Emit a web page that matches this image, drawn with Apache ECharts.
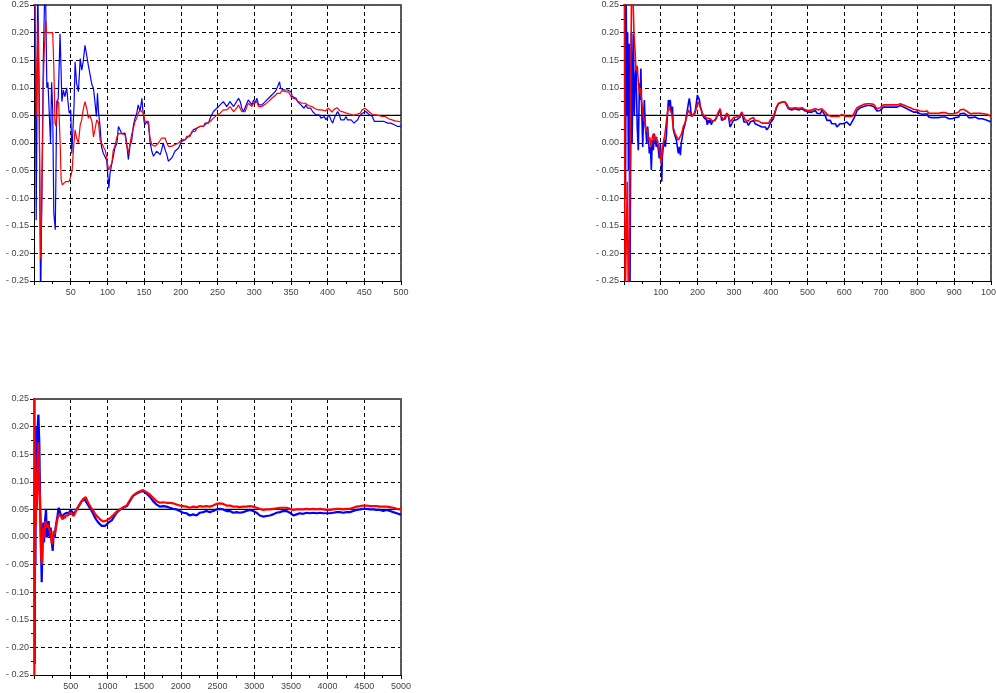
<!DOCTYPE html>
<html>
<head>
<meta charset="utf-8">
<title>Running estimates</title>
<script src="https://cdn.jsdelivr.net/npm/echarts@6/dist/echarts.min.js"></script>
<style>
  html, body { margin: 0; padding: 0; background: #fff; }
  #chart { width: 996px; height: 693px; }
</style>
</head>
<body>
<div id="chart"></div>
<script>
// Reference level drawn as a solid black line in every panel
const refLevel = 0.05;

// Horizontal extent and tick step of each panel
const panelMax = [500, 1000, 5000];
const panelStep = [50, 100, 500];

// Panel 1: first 500 steps, pairs of [step, estimate]
const tlBlue = [
[1,0.30],[2,0.10],[3,-0.14],[4,0.05],[5,0.30],[7,0.10],[9,-0.30],[11,-0.05],[12.7,0.15],[15,0.30],[16,0.25],[17.5,0.10],[19,0.11],[21,0.107],[22.5,0.0],[24,0.11],[25.5,0.06],[27,-0.127],[29,-0.157],[31,0.075],[33,0.08],[35.5,0.198],[38,0.075],[40,0.096],[42,0.084],[44.5,0.10],[47,0.066],[48,0.054],[50,0.06],[51.5,-0.019],[54.5,0.066],[56,0.147],[58,0.108],[60.5,0.093],[63,0.153],[65,0.132],[67,0.147],[69.5,0.177],[72,0.174],[74,0.141],[76,0.138],[79,0.105],[81,0.099],[83,0.075],[85,0.048],[86.5,0.09],[88,0.054],[90,0.03],[92,-0.007],[94.5,-0.019],[97,-0.016],[99,-0.031],[102,-0.082],[103.6,-0.055],[106,-0.037],[108,-0.025],[110,-0.01],[113,0.0],[115,0.03],[117,0.031],[119.5,0.017],[122,0.02],[124,0.018],[126,0.003],[128.5,-0.03],[131,-0.003],[133,0.003],[135.5,0.033],[137.7,0.045],[140,0.054],[142,0.069],[144.5,0.057],[147,0.081],[148,0.063],[150,0.039],[151,0.033],[153.6,0.039],[156,0.033],[158,0.003],[160.5,-0.015],[162.7,-0.024],[165,-0.021],[167,-0.015],[169.5,-0.012],[172,-0.021],[174,-0.012],[176,0.0],[178.6,-0.012],[181,-0.021],[183,-0.033],[185.5,-0.036],[187.7,-0.027],[190,-0.021],[192,-0.015],[194.5,-0.012],[197,-0.009],[199,-0.003],[201,0.003],[203.6,0.0],[206,0.006],[208,0.009],[210.5,0.012],[212.7,0.015],[215,0.018],[217,0.024],[219.5,0.024],[222,0.027],[224,0.024],[226,0.03],[228.6,0.033],[231,0.03],[233,0.036],[235.5,0.039],[237.7,0.036],[240,0.045],[242,0.051],[244.5,0.057],[247,0.06],[249,0.063],[251,0.066],[253.6,0.069],[256,0.072],[258,0.075],[260.5,0.072],[262.7,0.066],[265,0.069],[267,0.075],[269.5,0.072],[272,0.066],[274,0.063],[276,0.075],[278.6,0.081],[281,0.075],[283,0.063],[285.5,0.057],[287.7,0.06],[290,0.072],[292,0.078],[294.5,0.075],[297,0.069],[299,0.078],[301,0.072],[303.6,0.081],[306,0.069],[308,0.066],[310.5,0.069],[312.7,0.072],[315,0.075],[317,0.078],[319.5,0.081],[322,0.084],[324,0.087],[326,0.09],[328.6,0.093],[331,0.099],[333,0.102],[334.5,0.111],[336,0.099],[338.6,0.102],[341,0.096],[343,0.099],[345.5,0.096],[347.7,0.096],[350,0.093],[352,0.084],[354.5,0.081],[357,0.081],[359,0.075],[361,0.072],[363.6,0.069],[366,0.069],[368,0.063],[370.5,0.069],[372.7,0.063],[375,0.06],[377,0.063],[379.5,0.057],[382,0.054],[384,0.051],[386,0.048],[388.6,0.051],[391,0.045],[393,0.042],[395.5,0.048],[397.7,0.042],[400,0.045],[402,0.051],[404.5,0.042],[407,0.036],[409,0.045],[411,0.048],[413.6,0.057],[416,0.051],[418,0.042],[420.5,0.045],[422.7,0.042],[425,0.048],[427,0.042],[429.5,0.045],[432,0.042],[434,0.039],[436,0.036],[438.6,0.036],[441,0.042],[443,0.048],[445.5,0.051],[447.7,0.054],[450,0.054],[452,0.057],[454.5,0.054],[457,0.051],[459,0.048],[461,0.048],[463.6,0.039],[466,0.036],[468,0.039],[470.5,0.042],[472.7,0.039],[475,0.042],[477,0.039],[479.5,0.036],[482,0.036],[484,0.033],[486,0.036],[488.6,0.033],[491,0.033],[493,0.032],[495.5,0.03],[497.7,0.033],[500,0.03]
];
const tlRed = [
[1,0.30],[2,0.20],[3,0.05],[4,0.12],[5.5,0.22],[7,0.05],[9,-0.21],[10.5,-0.12],[11.4,-0.03],[12.7,0.108],[14,0.168],[16,0.222],[17,0.2],[19.5,0.2],[22,0.2],[25.5,0.2],[27,0.138],[28.6,0.036],[30,0.03],[32,0.078],[33.6,0.072],[35.5,0.005],[37,-0.067],[38.6,-0.076],[41,-0.079],[43,-0.07],[45.5,-0.067],[47.7,-0.07],[50,-0.061],[52,-0.049],[53.6,-0.013],[56,0.024],[58,0.009],[60.5,0.0],[63,0.033],[65,0.042],[67,0.06],[69.5,0.075],[72,0.062],[74,0.045],[76,0.05],[79,0.039],[81,0.011],[83,0.024],[85.5,0.042],[88,0.036],[90,0.005],[92,0.0],[94.5,-0.007],[97,-0.013],[99,-0.025],[101.4,-0.049],[103.6,-0.043],[106,-0.037],[108,-0.013],[110,-0.007],[113,0.011],[115,0.017],[117,0.014],[119.5,0.017],[122,0.014],[124,0.015],[126,-0.003],[128.6,-0.018],[131,0.0],[133,0.015],[135.5,0.027],[137.7,0.039],[140,0.045],[142,0.054],[144.5,0.06],[147,0.063],[149,0.054],[151,0.039],[153.6,0.036],[156,0.039],[158,0.009],[160.5,-0.003],[162.7,-0.003],[165,-0.006],[167,-0.003],[169.5,0.0],[172,-0.003],[174,0.009],[176,0.012],[178.6,0.009],[181,0.0],[183,-0.006],[185.5,-0.009],[187.7,-0.006],[190,-0.009],[192,-0.003],[194.5,0.0],[197,0.0],[199,0.003],[201,0.006],[203.6,0.003],[206,0.006],[208,0.012],[210.5,0.015],[212.7,0.012],[215,0.021],[217,0.024],[219.5,0.021],[222,0.027],[224,0.024],[226,0.03],[228.6,0.027],[231,0.03],[233,0.033],[235.5,0.036],[237.7,0.033],[240,0.039],[242,0.042],[244.5,0.045],[247,0.048],[249,0.05],[251,0.051],[253.6,0.054],[256,0.057],[258,0.06],[260.5,0.062],[262.7,0.06],[265,0.063],[267,0.066],[269.5,0.063],[272,0.057],[274,0.054],[276,0.063],[278.6,0.069],[281,0.066],[283,0.057],[285.5,0.054],[287.7,0.057],[290,0.066],[292,0.072],[294.5,0.069],[297,0.066],[299,0.072],[301,0.069],[303.6,0.075],[306,0.066],[308,0.064],[310.5,0.066],[312.7,0.069],[315,0.07],[317,0.072],[319.5,0.075],[322,0.078],[324,0.081],[326,0.082],[328.6,0.086],[331,0.09],[333,0.093],[335.5,0.09],[337.7,0.095],[340,0.092],[342,0.093],[344.5,0.09],[347,0.092],[349,0.089],[351,0.082],[353.6,0.081],[356,0.08],[358,0.077],[360.5,0.075],[362.7,0.074],[365,0.072],[367,0.07],[369.5,0.072],[372,0.069],[374,0.068],[376,0.069],[378.6,0.066],[381,0.063],[383,0.062],[385.5,0.063],[387.7,0.06],[390,0.063],[392,0.06],[394.5,0.062],[397,0.058],[399,0.06],[401,0.063],[403.6,0.06],[406,0.056],[408,0.06],[410.5,0.063],[412.7,0.064],[415,0.062],[417,0.058],[419.5,0.057],[422,0.056],[424,0.057],[426,0.054],[428.6,0.056],[431,0.052],[433,0.051],[435.5,0.05],[437.7,0.051],[440,0.052],[442,0.051],[444.5,0.054],[447,0.06],[449,0.062],[451,0.063],[453.6,0.06],[456,0.057],[458,0.054],[460.5,0.052],[462.7,0.05],[465,0.051],[467,0.048],[469.5,0.05],[472,0.051],[474,0.048],[476,0.046],[478.6,0.048],[481,0.045],[483,0.044],[485.5,0.045],[487.7,0.042],[490,0.042],[492,0.04],[494.5,0.041],[497,0.039],[500,0.038]
];

// Panel 2: first 1000 steps
const trBlue = [
[2,0.30],[4,-0.10],[6,0.25],[8,0.05],[10,0.20],[12,-0.05],[14,0.18],[16,-0.30],[18,-0.30],[20,0.20],[22,0.0],[24,0.10],[25.5,0.198],[28,0.05],[30,0.108],[32.7,0.138],[36,0.03],[39,-0.013],[42,0.108],[43.6,0.078],[46,0.135],[48,0.066],[51,-0.007],[53,0.042],[55.5,0.078],[58,0.03],[60,0.017],[62,0.0],[64.5,0.03],[67,0.005],[69,-0.019],[72,-0.007],[74.5,-0.049],[77,0.005],[80,-0.013],[82.7,0.017],[85.5,0.005],[88,-0.007],[91,0.005],[93.6,-0.013],[96,-0.028],[99,0.0],[102,-0.037],[103,-0.07],[104.5,-0.025],[107,-0.007],[110,0.005],[112.7,-0.007],[115.5,0.014],[118,0.048],[121,0.078],[123.6,0.066],[126,0.078],[129,0.054],[132,0.066],[134.5,0.024],[137,0.017],[140,0.011],[142.7,0.005],[145.5,-0.007],[148,-0.019],[151,-0.007],[153.6,-0.022],[156,0.0],[159,0.011],[162,0.024],[164.5,0.03],[167,0.036],[170,0.048],[172.7,0.06],[175.5,0.072],[178,0.081],[181,0.066],[183.6,0.048],[186,0.045],[189,0.051],[192,0.054],[194.5,0.06],[197,0.072],[200,0.087],[203,0.087],[205.5,0.078],[208,0.066],[211,0.06],[213.6,0.051],[216,0.051],[219,0.045],[222,0.048],[224.5,0.042],[227,0.033],[230,0.042],[232.7,0.036],[235.5,0.042],[238,0.033],[241,0.039],[243.6,0.042],[246,0.036],[249,0.042],[253,0.041],[257,0.053],[262,0.062],[266,0.041],[271,0.038],[276,0.044],[280,0.053],[285,0.047],[289,0.029],[294,0.035],[298,0.041],[303,0.038],[307,0.042],[312,0.044],[316,0.047],[321,0.056],[324,0.058],[327,0.038],[330,0.035],[335,0.038],[339,0.032],[344,0.038],[348,0.035],[353,0.041],[357,0.035],[362,0.038],[366,0.032],[371,0.035],[376,0.029],[380,0.026],[385,0.029],[389,0.024],[394,0.028],[398,0.035],[403,0.038],[407,0.044],[412,0.056],[416,0.065],[421,0.071],[426,0.072],[430,0.074],[435,0.072],[439,0.074],[444,0.071],[448,0.062],[453,0.059],[457,0.06],[462,0.059],[466,0.062],[471,0.059],[476,0.06],[480,0.059],[485,0.062],[489,0.059],[494,0.058],[498,0.056],[503,0.056],[507,0.059],[512,0.056],[516,0.058],[521,0.059],[526,0.054],[530,0.056],[535,0.053],[539,0.059],[544,0.056],[548,0.05],[553,0.041],[557,0.038],[562,0.041],[566,0.035],[571,0.032],[576,0.035],[580,0.029],[585,0.032],[589,0.035],[594,0.038],[598,0.035],[603,0.035],[607,0.038],[612,0.036],[616,0.032],[621,0.035],[626,0.044],[630,0.05],[635,0.059],[639,0.062],[644,0.064],[648,0.065],[653,0.066],[657,0.065],[662,0.068],[666,0.066],[671,0.068],[676,0.065],[680,0.066],[685,0.062],[689,0.058],[694,0.056],[698,0.059],[703,0.062],[707,0.065],[712,0.066],[716,0.065],[721,0.064],[726,0.065],[730,0.064],[735,0.065],[739,0.066],[744,0.065],[748,0.066],[753,0.068],[757,0.066],[762,0.065],[766,0.062],[771,0.062],[776,0.059],[780,0.059],[785,0.058],[789,0.056],[794,0.058],[798,0.056],[803,0.056],[807,0.053],[812,0.054],[816,0.052],[821,0.054],[826,0.053],[830,0.047],[835,0.044],[839,0.046],[844,0.047],[848,0.046],[853,0.047],[857,0.046],[862,0.048],[866,0.047],[871,0.046],[876,0.047],[880,0.046],[885,0.044],[889,0.042],[894,0.044],[898,0.047],[903,0.046],[907,0.044],[912,0.047],[916,0.053],[921,0.053],[926,0.054],[930,0.052],[935,0.05],[939,0.046],[944,0.044],[948,0.046],[953,0.046],[957,0.047],[962,0.046],[966,0.044],[971,0.046],[976,0.044],[980,0.044],[985,0.042],[989,0.042],[994,0.04],[1000,0.038]
];
const trRed = [
[1,0.30],[3,-0.30],[6,-0.30],[9,-0.07],[12,-0.30],[15,-0.17],[18,0.10],[21,0.30],[24,0.28],[27,0.20],[30,0.168],[33,0.13],[36,0.14],[39,0.11],[42,0.09],[45,0.10],[48,0.075],[51,0.06],[54,0.04],[57,0.045],[60,0.02],[63,0.025],[66,0.005],[70,0.01],[74,-0.007],[77,0.01],[80,0.017],[84.5,0.005],[89,0.011],[93.6,-0.007],[98,-0.019],[101,-0.037],[104.5,-0.013],[107,0.0],[111.8,0.017],[116,0.042],[121,0.066],[125.5,0.06],[130,0.054],[134.5,0.027],[139,0.017],[143.6,0.011],[148,0.005],[152.7,0.008],[157,0.017],[161.8,0.03],[166,0.036],[171,0.048],[175.5,0.06],[180,0.063],[184.5,0.048],[189,0.048],[193.6,0.054],[198,0.066],[202.7,0.075],[207,0.066],[211.8,0.057],[216,0.051],[220,0.048],[225,0.045],[230,0.045],[235,0.044],[240,0.04],[244,0.043],[248,0.041],[253,0.044],[257,0.056],[262,0.062],[266,0.047],[271,0.042],[276,0.048],[280,0.054],[285,0.05],[289,0.038],[294,0.04],[298,0.046],[303,0.044],[307,0.047],[312,0.048],[316,0.05],[321,0.056],[326,0.053],[330,0.042],[335,0.044],[339,0.04],[344,0.044],[348,0.042],[353,0.046],[357,0.041],[362,0.044],[366,0.04],[371,0.041],[376,0.036],[380,0.035],[385,0.036],[389,0.034],[394,0.036],[398,0.041],[403,0.044],[407,0.048],[412,0.058],[416,0.066],[421,0.072],[426,0.072],[430,0.074],[435,0.073],[439,0.074],[444,0.07],[448,0.064],[453,0.062],[457,0.063],[462,0.062],[466,0.064],[471,0.062],[476,0.063],[480,0.062],[485,0.064],[489,0.061],[494,0.06],[498,0.059],[503,0.059],[507,0.061],[512,0.06],[516,0.061],[521,0.062],[526,0.059],[530,0.06],[535,0.058],[539,0.062],[544,0.06],[548,0.056],[553,0.053],[557,0.05],[562,0.052],[566,0.048],[571,0.047],[576,0.048],[580,0.046],[585,0.048],[589,0.05],[594,0.052],[598,0.05],[603,0.048],[607,0.05],[612,0.048],[616,0.046],[621,0.048],[626,0.053],[630,0.058],[635,0.064],[639,0.066],[644,0.067],[648,0.069],[653,0.07],[657,0.069],[662,0.071],[666,0.07],[671,0.071],[676,0.069],[680,0.07],[685,0.066],[689,0.062],[694,0.06],[698,0.064],[703,0.066],[707,0.069],[712,0.07],[716,0.069],[721,0.067],[726,0.069],[730,0.067],[735,0.069],[739,0.07],[744,0.069],[748,0.07],[753,0.071],[757,0.07],[762,0.069],[766,0.066],[771,0.066],[776,0.064],[780,0.064],[785,0.062],[789,0.061],[794,0.062],[798,0.06],[803,0.06],[807,0.058],[812,0.059],[816,0.057],[821,0.059],[826,0.058],[830,0.054],[835,0.053],[839,0.054],[844,0.055],[848,0.054],[853,0.055],[857,0.054],[862,0.056],[866,0.055],[871,0.054],[876,0.055],[880,0.054],[885,0.053],[889,0.052],[894,0.053],[898,0.055],[903,0.054],[907,0.053],[912,0.056],[916,0.06],[921,0.06],[926,0.061],[930,0.059],[935,0.057],[939,0.054],[944,0.053],[948,0.054],[953,0.054],[957,0.055],[962,0.054],[966,0.053],[971,0.054],[976,0.053],[980,0.053],[985,0.052],[989,0.052],[994,0.051],[1000,0.048]
];

// Panel 3: first 5000 steps
const blBlue = [
[5,0.10],[10,-0.23],[15,0.19],[20,-0.05],[25,0.20],[30,0.05],[40,0.13],[50,0.20],[60,0.222],[73,0.167],[82,0.065],[91,0.017],[105,-0.082],[118,0.005],[127,0.026],[136,-0.01],[150,0.029],[164,0.05],[173,-0.001],[186,0.005],[200,0.029],[214,0.0],[227,0.017],[241,-0.007],[255,-0.025],[268,0.005],[282,0.0],[295,0.017],[309,0.029],[323,0.041],[336,0.053],[350,0.05],[364,0.041],[377,0.044],[391,0.035],[405,0.041],[418,0.038],[432,0.041],[445,0.044],[459,0.041],[473,0.042],[486,0.047],[500,0.05],[514,0.047],[527,0.044],[541,0.041],[555,0.044],[568,0.047],[582,0.05],[595,0.053],[609,0.056],[623,0.059],[636,0.062],[650,0.065],[664,0.068],[677,0.065],[691,0.068],[705,0.07],[718,0.065],[732,0.059],[745,0.056],[759,0.053],[773,0.05],[786,0.047],[809,0.041],[832,0.035],[855,0.03],[877,0.026],[900,0.023],[923,0.02],[945,0.017],[968,0.02],[991,0.023],[1014,0.026],[1036,0.026],[1059,0.03],[1082,0.035],[1105,0.038],[1127,0.044],[1150,0.047],[1173,0.05],[1195,0.053],[1218,0.053],[1241,0.054],[1264,0.056],[1286,0.059],[1309,0.066],[1332,0.071],[1355,0.075],[1377,0.077],[1400,0.079],[1423,0.08],[1445,0.082],[1486,0.083],[1532,0.079],[1577,0.073],[1623,0.065],[1668,0.059],[1714,0.055],[1759,0.056],[1805,0.055],[1850,0.053],[1895,0.051],[1941,0.05],[1986,0.047],[2032,0.044],[2077,0.043],[2123,0.039],[2168,0.041],[2214,0.039],[2259,0.044],[2305,0.045],[2350,0.047],[2395,0.045],[2441,0.047],[2486,0.05],[2532,0.051],[2577,0.05],[2623,0.047],[2668,0.047],[2714,0.044],[2759,0.045],[2805,0.044],[2850,0.045],[2895,0.047],[2941,0.049],[2986,0.047],[3032,0.044],[3077,0.039],[3123,0.037],[3168,0.038],[3214,0.039],[3259,0.041],[3305,0.044],[3350,0.045],[3395,0.047],[3441,0.047],[3486,0.044],[3532,0.039],[3577,0.041],[3623,0.043],[3668,0.042],[3714,0.044],[3759,0.043],[3805,0.044],[3850,0.043],[3895,0.044],[3941,0.043],[3986,0.043],[4032,0.043],[4077,0.044],[4123,0.045],[4168,0.045],[4214,0.044],[4259,0.045],[4305,0.045],[4350,0.047],[4395,0.049],[4441,0.05],[4486,0.051],[4532,0.051],[4577,0.05],[4623,0.05],[4668,0.049],[4714,0.049],[4759,0.047],[4805,0.049],[4850,0.047],[4895,0.045],[4941,0.043],[4986,0.041],[5000,0.04]
];
const blRed = [
[2,0.30],[5,-0.30],[8,0.30],[12,-0.10],[18,0.15],[25,0.02],[32,0.12],[40,0.05],[50,0.10],[60,0.171],[70,0.10],[80,0.077],[95,-0.031],[109,-0.049],[127,0.017],[141,-0.001],[155,0.029],[173,0.017],[186,0.023],[200,0.017],[218,0.011],[232,-0.001],[245,-0.013],[255,-0.007],[268,0.011],[282,0.005],[295,0.014],[309,0.026],[323,0.035],[336,0.041],[350,0.044],[364,0.038],[377,0.04],[391,0.032],[405,0.038],[418,0.034],[432,0.038],[445,0.04],[459,0.038],[473,0.04],[486,0.044],[500,0.046],[514,0.042],[527,0.04],[541,0.038],[555,0.041],[568,0.046],[582,0.05],[595,0.053],[609,0.056],[623,0.059],[636,0.062],[650,0.065],[664,0.068],[677,0.066],[691,0.07],[705,0.072],[718,0.068],[732,0.064],[745,0.06],[759,0.058],[773,0.054],[786,0.052],[809,0.047],[832,0.042],[855,0.038],[877,0.035],[900,0.032],[923,0.03],[945,0.028],[968,0.029],[991,0.03],[1014,0.033],[1036,0.034],[1059,0.036],[1082,0.04],[1105,0.042],[1127,0.046],[1150,0.048],[1173,0.05],[1195,0.053],[1218,0.054],[1241,0.055],[1264,0.057],[1286,0.06],[1309,0.067],[1332,0.072],[1355,0.076],[1377,0.078],[1400,0.08],[1423,0.081],[1445,0.083],[1486,0.085],[1532,0.081],[1577,0.077],[1623,0.071],[1668,0.065],[1714,0.062],[1759,0.063],[1805,0.062],[1850,0.062],[1895,0.061],[1941,0.059],[1986,0.057],[2032,0.056],[2077,0.055],[2123,0.053],[2168,0.055],[2214,0.054],[2259,0.056],[2305,0.055],[2350,0.056],[2395,0.055],[2441,0.057],[2486,0.06],[2532,0.061],[2577,0.06],[2623,0.057],[2668,0.057],[2714,0.055],[2759,0.055],[2805,0.054],[2850,0.055],[2895,0.055],[2941,0.056],[2986,0.055],[3032,0.053],[3077,0.051],[3123,0.049],[3168,0.05],[3214,0.05],[3259,0.051],[3305,0.052],[3350,0.053],[3395,0.053],[3441,0.053],[3486,0.051],[3532,0.049],[3577,0.05],[3623,0.05],[3668,0.05],[3714,0.051],[3759,0.05],[3805,0.051],[3850,0.05],[3895,0.051],[3941,0.05],[3986,0.049],[4032,0.049],[4077,0.05],[4123,0.051],[4168,0.051],[4214,0.05],[4259,0.051],[4305,0.051],[4350,0.053],[4395,0.055],[4441,0.056],[4486,0.057],[4532,0.057],[4577,0.056],[4623,0.056],[4668,0.056],[4714,0.055],[4759,0.055],[4805,0.055],[4850,0.054],[4895,0.053],[4941,0.051],[4986,0.05],[5000,0.05]
];

const panelBlue = [tlBlue, trBlue, blBlue];
const panelRed = [tlRed, trRed, blRed];
const panelLineWidth = [1.2, 1.6, 2.2];

// Plot frames: the two upper panels side by side, the third below the first
const frames = [
  { left: 34, top: 5, width: 367, height: 276 },
  { left: 624, top: 5, width: 367, height: 276 },
  { left: 34, top: 399, width: 367, height: 276 }
];

const labelFont = { fontFamily: 'Liberation Sans, Arial, sans-serif', fontSize: 9, color: '#444' };
const gridDash = { color: '#000', width: 1, type: [4, 3] };
const frameEdge = { color: '#555', width: 2, type: [2, 1] };

function yLabel(v) {
  const a = Math.abs(v).toFixed(2);
  return v < -1e-9 ? '- ' + a : a;
}
function xLabel(v) {
  return String(Math.round(v));
}

const xAxes = [], yAxes = [], series = [];
frames.forEach((f, i) => {
  // bottom axis with dashed vertical grid
  xAxes.push({
    type: 'value', gridIndex: i, min: 0, max: panelMax[i], interval: panelStep[i],
    axisLine: { show: true, onZero: false, lineStyle: { color: '#000', width: 1 } },
    axisTick: { show: true, length: 4, lineStyle: { color: '#000' } },
    minorTick: { show: true, splitNumber: 2, length: 3, lineStyle: { color: '#000' } },
    splitLine: { show: true, lineStyle: gridDash },
    axisLabel: Object.assign({ formatter: xLabel, showMinLabel: false, showMaxLabel: true, margin: 7 }, labelFont)
  });
  // top edge of the frame
  xAxes.push({
    type: 'value', gridIndex: i, position: 'top', min: 0, max: panelMax[i],
    axisLine: { show: true, onZero: false, lineStyle: frameEdge },
    axisTick: { show: false }, axisLabel: { show: false }, splitLine: { show: false }
  });
  // left axis with dashed horizontal grid
  yAxes.push({
    type: 'value', gridIndex: i, min: -0.25, max: 0.25, interval: 0.05,
    axisLine: { show: true, onZero: false, lineStyle: { color: '#000', width: 1 } },
    axisTick: { show: true, length: 4, lineStyle: { color: '#000' } },
    minorTick: { show: true, splitNumber: 2, length: 3, lineStyle: { color: '#000' } },
    splitLine: { show: true, lineStyle: gridDash },
    axisLabel: Object.assign({ formatter: yLabel, margin: 5 }, labelFont)
  });
  // right edge of the frame
  yAxes.push({
    type: 'value', gridIndex: i, position: 'right', min: -0.25, max: 0.25,
    axisLine: { show: true, onZero: false, lineStyle: frameEdge },
    axisTick: { show: false }, axisLabel: { show: false }, splitLine: { show: false }
  });

  const xi = i * 2, yi = i * 2;
  series.push({
    type: 'line', xAxisIndex: xi, yAxisIndex: yi, symbol: 'none', silent: true,
    data: [[0, refLevel], [panelMax[i], refLevel]],
    lineStyle: { color: '#000', width: 1.2 }, z: 2
  });
  series.push({
    type: 'line', xAxisIndex: xi, yAxisIndex: yi, symbol: 'none', silent: true, clip: true,
    data: panelBlue[i], lineStyle: { color: '#0000ff', width: panelLineWidth[i] }, z: 3
  });
  series.push({
    type: 'line', xAxisIndex: xi, yAxisIndex: yi, symbol: 'none', silent: true, clip: true,
    data: panelRed[i], lineStyle: { color: '#ff0000', width: panelLineWidth[i] }, z: 4
  });
});

const chart = echarts.init(document.getElementById('chart'), null, { renderer: 'canvas' });
chart.setOption({
  animation: false,
  backgroundColor: '#fff',
  grid: frames.map(f => Object.assign({ containLabel: false, outerBoundsMode: 'none' }, f)),
  xAxis: xAxes,
  yAxis: yAxes,
  series: series
});
</script>
</body>
</html>
